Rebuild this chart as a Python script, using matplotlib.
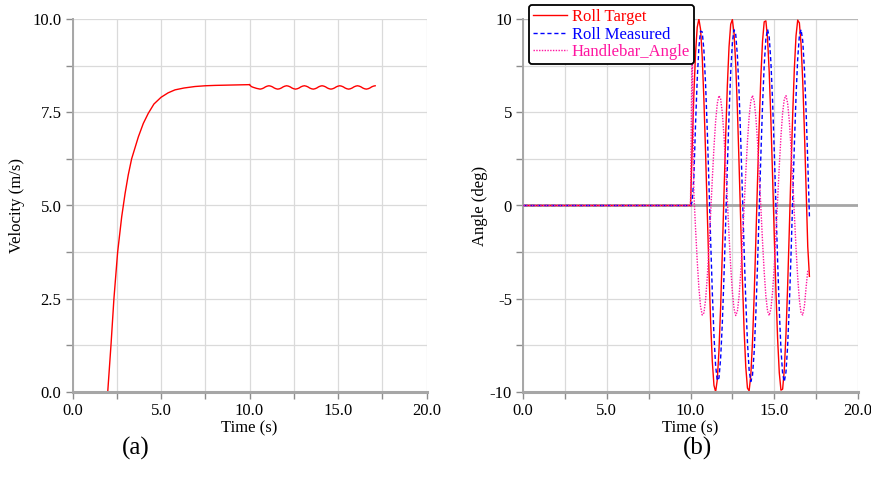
import numpy as np
import matplotlib
matplotlib.use("Agg")
import matplotlib.pyplot as plt
from matplotlib.ticker import MultipleLocator, FormatStrFormatter

plt.rcParams['font.family'] = ['Liberation Serif', 'DejaVu Serif']
plt.rcParams['axes.unicode_minus'] = False

# --- (a) forward velocity: launch phase up to 10 s ---
t_launch = [0.0, 1.99, 2.18, 2.34, 2.55, 2.78, 2.97, 3.15, 3.34, 3.72, 4.0, 4.28,
            4.6, 5.0, 5.4, 5.79, 6.3, 6.92, 7.5, 8.05, 9.0, 10.0]
v_launch = [0.0, 0.0, 1.3, 2.5, 3.75, 4.70, 5.32, 5.82, 6.25, 6.84, 7.2, 7.47,
            7.72, 7.90, 8.02, 8.10, 8.15, 8.19, 8.21, 8.22, 8.23, 8.24]

# sample times during the roll manoeuvre (10.0 ... 17.1 s)
t_roll = np.arange(100, 172) / 10.0

# velocity while rolling
v_roll = [8.24, 8.19, 8.17, 8.155, 8.14, 8.13, 8.12,
          8.13, 8.15, 8.18, 8.20, 8.21, 8.20, 8.18, 8.15, 8.13, 8.12,
          8.13, 8.15, 8.18, 8.20, 8.21, 8.20, 8.18, 8.15, 8.13, 8.12,
          8.13, 8.15, 8.18, 8.20, 8.21, 8.20, 8.18, 8.15, 8.13, 8.12,
          8.13, 8.15, 8.18, 8.20, 8.21, 8.20, 8.18, 8.15, 8.13, 8.12,
          8.13, 8.15, 8.18, 8.20, 8.21, 8.20, 8.18, 8.15, 8.13, 8.12,
          8.13, 8.15, 8.18, 8.20, 8.21, 8.20, 8.18, 8.15, 8.13, 8.12,
          8.13, 8.15, 8.18, 8.20, 8.21]

# --- (b) roll angles (deg) ---
roll_target = [0.0, 3.12, 5.93, 8.14, 9.55, 10.0, 9.45, 7.96, 5.67, 2.82,
               -0.32, -3.42, -6.18, -8.33, -9.64, -9.99, -9.34, -7.76, -5.41, -2.51,
               0.63, 3.72, 6.43, 8.50, 9.72, 9.97, 9.22, 7.56, 5.14, 2.20,
               -0.95, -4.01, -6.67, -8.66, -9.79, -9.94, -9.10, -7.34, -4.86, -1.89,
               1.27, 4.30, 6.90, 8.81, 9.85, 9.90, 8.96, 7.13, 4.58, 1.58,
               -1.58, -4.58, -7.13, -8.96, -9.90, -9.85, -8.81, -6.90, -4.30, -1.27,
               1.89, 4.86, 7.34, 9.10, 9.94, 9.79, 8.66, 6.67, 4.01, 0.95,
               -2.20, -3.8]

roll_measured = [0.0, 0.2, 1.49, 4.33, 6.74, 8.47, 9.35, 9.31, 8.33, 6.51,
                 4.07, 1.20, -1.79, -4.59, -6.95, -8.60, -9.39, -9.25, -8.18, -6.30,
                 -3.78, -0.91, 2.08, 4.85, 7.14, 8.72, 9.42, 9.18, 8.03, 6.07,
                 3.51, 0.59, -2.37, -5.10, -7.34, -8.83, -9.44, -9.11, -7.87, -5.84,
                 -3.23, -0.30, 2.67, 5.35, 7.52, 8.93, 9.45, 9.02, 7.69, 5.61,
                 2.95, 0.0, -2.95, -5.61, -7.69, -9.02, -9.45, -8.93, -7.52, -5.35,
                 -2.67, 0.30, 3.23, 5.84, 7.87, 9.11, 9.44, 8.83, 7.34, 5.10,
                 2.37, -0.59]

handlebar = [0.0, 9.0, 0.7, -1.21, -2.95, -4.40, -5.41, -5.87, -5.76, -5.06,
             -3.86, -2.28, -0.47, 1.39, 3.11, 4.52, 5.48, 5.89, 5.71, 4.97,
             3.72, 2.10, 0.28, -1.58, -3.27, -4.64, -5.54, -5.90, -5.66, -4.86,
             -3.57, -1.93, -0.09, 1.75, 3.43, 4.75, 5.60, 5.90, 5.60, 4.75,
             3.43, 1.75, -0.09, -1.93, -3.57, -4.86, -5.66, -5.90, -5.54, -4.64,
             -3.27, -1.58, 0.28, 2.10, 3.72, 4.97, 5.71, 5.89, 5.48, 4.52,
             3.11, 1.39, -0.47, -2.28, -3.86, -5.06, -5.76, -5.87, -5.41, -4.40,
             -3.5]

# quiet part before the manoeuvre
t_pre = [0.0, 10.0]
zero_pre = [0.0, 0.0]

RED = '#ff0000'
BLUE = '#0000ff'
PINK = '#ff14a0'
GRID = '#dadada'
AXIS = '#a6a6a6'
FS = 12

fig = plt.figure(figsize=(8.71, 4.90), dpi=100)
ax1 = fig.add_axes([72.5 / 871, 98 / 490, 354 / 871, 373 / 490])
ax2 = fig.add_axes([523 / 871, 98 / 490, 335 / 871, 373 / 490])


def style_axes(ax, ymaj, ymin, yfmt):
    ax.set_xlim(0, 20)
    ax.xaxis.set_major_locator(MultipleLocator(5))
    ax.xaxis.set_minor_locator(MultipleLocator(2.5))
    ax.xaxis.set_major_formatter(FormatStrFormatter('%.1f'))
    ax.yaxis.set_major_locator(MultipleLocator(ymaj))
    ax.yaxis.set_minor_locator(MultipleLocator(ymin))
    ax.yaxis.set_major_formatter(FormatStrFormatter(yfmt))
    ax.grid(which='both', color=GRID, lw=0.9)
    ax.set_axisbelow(True)
    for side in ('top', 'right'):
        ax.spines[side].set_visible(False)
    ax.spines['left'].set_color(AXIS)
    ax.spines['left'].set_linewidth(1.4)
    ax.spines['bottom'].set_color(AXIS)
    ax.spines['bottom'].set_linewidth(2.2)
    ax.tick_params(which='both', direction='out', length=5, width=1,
                   color='#8c8c8c', labelsize=FS, pad=3)
    ax.set_xlabel('Time (s)', fontsize=FS, labelpad=1)


# (a) velocity
style_axes(ax1, 2.5, 1.25, '%.1f')
ax1.set_ylim(0, 10)
ax1.plot(t_launch, v_launch, color=RED, lw=1.0, zorder=1)
ax1.plot(t_roll, v_roll, color=RED, lw=1.0, zorder=1)
ax1.set_ylabel('Velocity (m/s)', fontsize=FS, labelpad=5)

# (b) roll angles
style_axes(ax2, 5, 2.5, '%d')
ax2.set_ylim(-10, 10)
ax2.axhline(0, color=AXIS, lw=2, zorder=1)
ax2.axhline(10, color='#b8b8b8', lw=1.6, zorder=1)
ax2.plot(t_pre, zero_pre, color=RED, lw=1.0, zorder=2)
ax2.plot(t_pre, zero_pre, color=BLUE, lw=1.0, ls=(0, (3, 2)), zorder=3)
ax2.plot(t_pre, zero_pre, color=PINK, lw=1.0, ls=(0, (1, 1)), zorder=4)
ax2.plot(t_roll, roll_target, color=RED, lw=1.0, zorder=2, label='Roll Target')
ax2.plot(t_roll, roll_measured, color=BLUE, lw=1.0, ls=(0, (3, 2)), zorder=3,
         label='Roll Measured')
ax2.plot(t_roll[:len(handlebar)], handlebar, color=PINK, lw=1.0, ls=(0, (1, 1)),
         zorder=4, label='Handlebar_Angle')
ax2.set_ylabel('Angle (deg)', fontsize=FS, labelpad=1)

leg = ax2.legend(loc='upper left', bbox_to_anchor=(0.018, 1.038), borderaxespad=0,
                 fontsize=FS, frameon=True, fancybox=True, framealpha=1,
                 handlelength=2.0, handletextpad=0.3, labelspacing=0.1,
                 borderpad=0.25)
leg.get_frame().set_edgecolor('black')
leg.get_frame().set_linewidth(1.3)
for text, col in zip(leg.get_texts(), (RED, BLUE, PINK)):
    text.set_color(col)

fig.text(136 / 871, 1 - 448 / 490, '(a)', fontsize=18, ha='center', va='center')
fig.text(697 / 871, 1 - 448 / 490, '(b)', fontsize=18, ha='center', va='center')

fig.savefig('out.png', dpi=100)
